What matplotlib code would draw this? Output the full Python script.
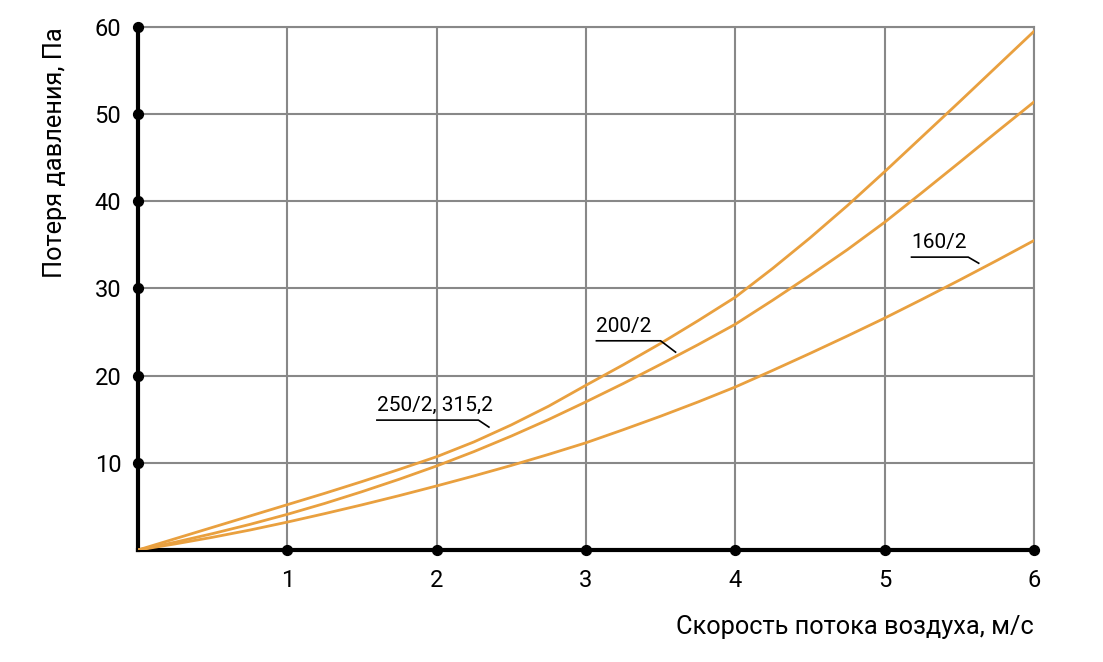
import numpy as np
import matplotlib
matplotlib.use("Agg")
from matplotlib import pyplot as plt

# данные (шаг 0.25 м/с)
skorost = [0, 0.25, 0.5, 0.75, 1, 1.25, 1.5, 1.75, 2, 2.25, 2.5, 2.75, 3,
           3.25, 3.5, 3.75, 4, 4.25, 4.5, 4.75, 5, 5.25, 5.5, 5.75, 6]
poterya_250 = [0, 1.3, 2.6, 3.9, 5.2, 6.5, 7.85, 9.25, 10.7, 12.4, 14.35, 16.5, 18.9,
               21.25, 23.7, 26.3, 29.0, 32.3, 35.8, 39.5, 43.4, 47.4, 51.4, 55.45, 59.5]
poterya_200 = [0, 0.9, 1.88, 2.94, 4.09, 5.34, 6.69, 8.12, 9.64, 11.29, 13.07, 14.97, 17.0,
               19.1, 21.3, 23.55, 25.9, 28.65, 31.5, 34.45, 37.6, 41.0, 44.45, 47.95, 51.4]
poterya_160 = [0, 0.7, 1.46, 2.29, 3.2, 4.17, 5.18, 6.24, 7.35, 8.5, 9.7, 10.97, 12.3,
               13.8, 15.35, 16.98, 18.7, 20.6, 22.55, 24.55, 26.6, 28.75, 30.95, 33.2, 35.5]
x_ticks = [1, 2, 3, 4, 5, 6]
y_ticks = [10, 20, 30, 40, 50, 60]

plt.rcParams['font.family'] = ['Roboto', 'DejaVu Sans']

fig = plt.figure(figsize=(11.03, 6.62), dpi=100)
ax = fig.add_axes([0.1251, 0.1692, 0.8123, 0.790])

orange = '#E9A03F'
for seriya in [poterya_250, poterya_200, poterya_160]:
    ax.plot(skorost, seriya, color=orange, lw=2, zorder=3, solid_joinstyle='round')

ax.set_xlim(0, 6)
ax.set_ylim(0, 60)
ax.set_xticks(x_ticks)
ax.set_yticks(y_ticks)
ax.set_xticklabels([str(v) for v in x_ticks], fontsize=17)
ax.set_yticklabels([str(v) for v in y_ticks], fontsize=17)
ax.tick_params(length=0, pad=12)
ax.tick_params(axis='x', pad=14)
ax.grid(True, color='#888888', lw=1.5)

for s in ['top', 'right']:
    ax.spines[s].set_color('#888888')
    ax.spines[s].set_linewidth(1.5)
for s in ['left', 'bottom']:
    ax.spines[s].set_color('black')
    ax.spines[s].set_linewidth(3)

# точки на осях
ax.scatter(x_ticks, [0] * len(x_ticks), s=50, color='black', clip_on=False, zorder=5)
ax.scatter([0] * len(y_ticks), y_ticks, s=50, color='black', clip_on=False, zorder=5)

ax.set_xlabel('Скорость потока воздуха, м/с', fontsize=18.3, loc='right', labelpad=16)
ax.set_ylabel('Потеря давления, Па', fontsize=18.3, loc='top', labelpad=20)

# подписи кривых
def podpis(text, x0, x1, y, xe, ye):
    ax.text(x0, y + 0.6, text, fontsize=15, ha='left', va='bottom')
    ax.plot([x0, x1, xe], [y, y, ye], color='black', lw=1.2, zorder=4)

podpis('250/2, 315,2', 1.60, 2.28, 14.9, 2.35, 14.1)
podpis('200/2', 3.07, 3.50, 24.0, 3.60, 22.7)
podpis('160/2', 5.18, 5.56, 33.6, 5.63, 32.9)

fig.savefig('out.png', dpi=100)
